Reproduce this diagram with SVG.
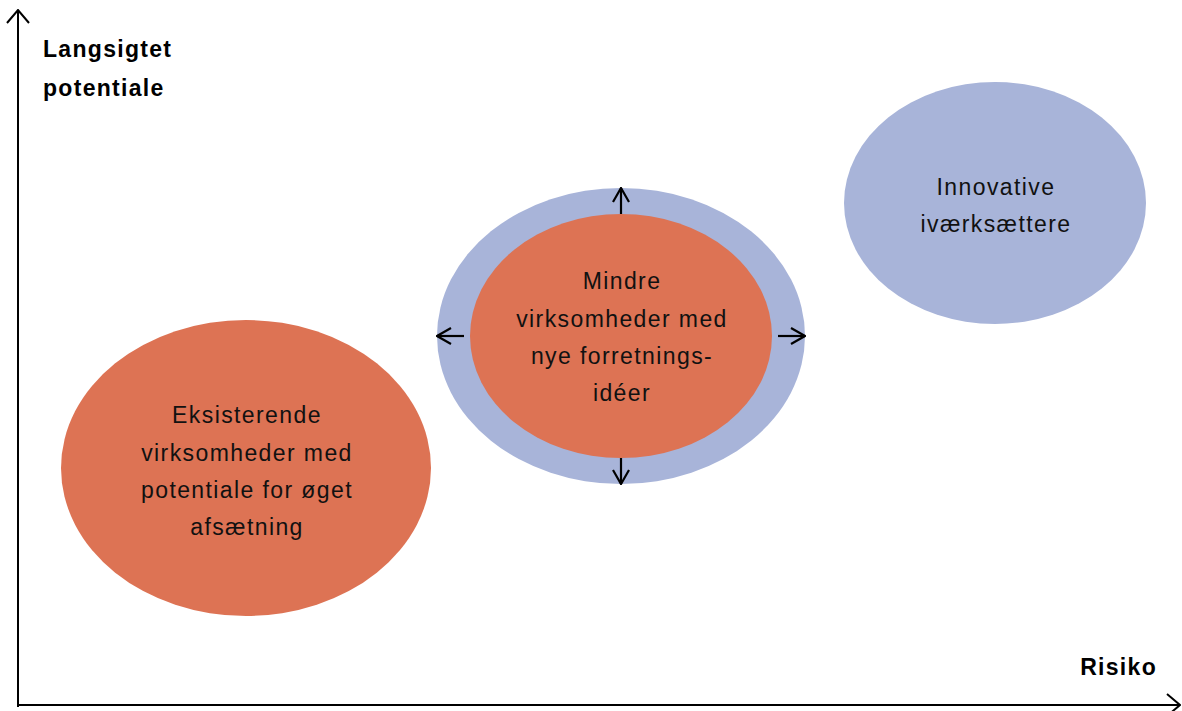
<svg xmlns="http://www.w3.org/2000/svg" width="1182" height="711" viewBox="0 0 1182 711">
<defs>
<style>
.orange{fill:#DD7354;}
.blue{fill:#A8B4D9;}
.t{font-family:"Liberation Sans",Arial,sans-serif;font-size:23px;fill:#111;text-anchor:middle;letter-spacing:1.4px;}
.ax{font-family:"Liberation Sans",Arial,sans-serif;font-size:23px;font-weight:bold;fill:#000;letter-spacing:1.3px;}
.ln{stroke:#000;stroke-width:2;fill:none;}
.ln2{stroke:#000;stroke-width:2.2;fill:none;}
</style>
<marker id="ah" viewBox="0 0 15 24" refX="14" refY="12" markerWidth="15" markerHeight="24" markerUnits="userSpaceOnUse" orient="auto">
<path d="M1,1 L14,12 L1,23" fill="none" stroke="#000" stroke-width="2"/>
</marker>
<marker id="sh" viewBox="0 0 16 18" refX="15" refY="9" markerWidth="16" markerHeight="18" markerUnits="userSpaceOnUse" orient="auto">
<path d="M1,1 L15,9 L1,17" fill="none" stroke="#000" stroke-width="2.2"/>
</marker>
</defs>
<rect width="1182" height="711" fill="#fff"/>
<g id="node-existing">
<ellipse class="orange" cx="246" cy="468" rx="185" ry="148"/>
<text class="t" x="247" y="423">Eksisterende</text>
<text class="t" x="247" y="461">virksomheder med</text>
<text class="t" x="247" y="498">potentiale for øget</text>
<text class="t" x="247" y="535">afsætning</text>
</g>
<g id="node-smaller">
<ellipse class="blue" cx="621" cy="336" rx="184" ry="148"/>
<ellipse class="orange" cx="621" cy="336" rx="151" ry="122"/>
<text class="t" x="622" y="289">Mindre</text>
<text class="t" x="622" y="327">virksomheder med</text>
<text class="t" x="622" y="364">nye forretnings-</text>
<text class="t" x="622" y="401">idéer</text>
</g>
<g id="node-innovative">
<ellipse class="blue" cx="995" cy="203" rx="151" ry="121"/>
<text class="t" x="996" y="195">Innovative</text>
<text class="t" x="996" y="232">iværksættere</text>
</g>
<g id="axis-labels">
<text class="ax" x="43" y="57">Langsigtet</text>
<text class="ax" x="43" y="96">potentiale</text>
<text class="ax" x="1157" y="675" text-anchor="end">Risiko</text>
</g>
<g id="connectors">
<line class="ln" x1="18" y1="707" x2="18" y2="10" marker-end="url(#ah)"/>
<line class="ln" x1="17" y1="705" x2="1180" y2="705" marker-end="url(#ah)"/>
<line class="ln2" x1="621" y1="214" x2="621" y2="188" marker-end="url(#sh)"/>
<line class="ln2" x1="621" y1="458" x2="621" y2="484" marker-end="url(#sh)"/>
<line class="ln2" x1="464" y1="336" x2="437" y2="336" marker-end="url(#sh)"/>
<line class="ln2" x1="778" y1="336" x2="805" y2="336" marker-end="url(#sh)"/>
</g>
</svg>
